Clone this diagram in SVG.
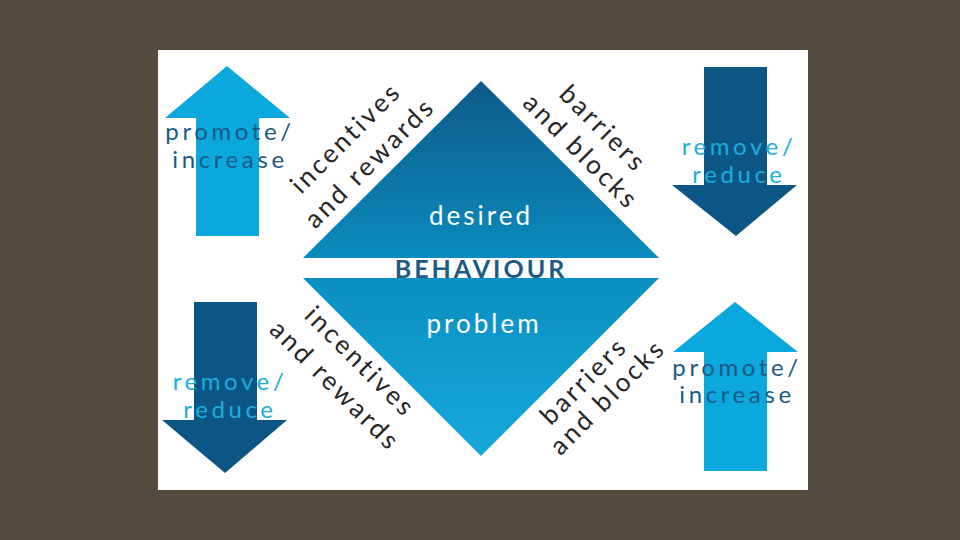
<svg xmlns="http://www.w3.org/2000/svg" width="960" height="540" viewBox="0 0 960 540">
<defs>
<linearGradient id="gTop" x1="0" y1="0" x2="0" y2="1">
<stop offset="0" stop-color="#0d5a88"/>
<stop offset="1" stop-color="#0a8bbd"/>
</linearGradient>
<linearGradient id="gBot" x1="0" y1="0" x2="0" y2="1">
<stop offset="0" stop-color="#0a8fc1"/>
<stop offset="1" stop-color="#17a8da"/>
</linearGradient>
<style>
.lbl{font-family:Lato,"Open Sans","Liberation Sans",sans-serif;font-size:26px;letter-spacing:3px;text-anchor:middle}
.arr{font-size:24px;letter-spacing:3.6px}
.rot{fill:#262626}
.dk{fill:#1b5a86}
.lt{fill:#1cadde}
.wh{fill:#ffffff}
.light{fill:#0aa8dc}
.dark{fill:#0b5684}
</style>
</defs>
<rect x="0" y="0" width="960" height="540" fill="#554c40"/>
<rect x="158" y="50" width="650" height="440" fill="#ffffff"/>

<g id="desired">
<polygon points="481,81 659,258 303,258" fill="url(#gTop)"/>
<text class="lbl wh" x="481" y="225">desired</text>
</g>
<g id="problem">
<polygon points="303,278 659,278 481,456" fill="url(#gBot)"/>
<text class="lbl wh" x="484" y="333">problem</text>
</g>
<g id="behaviour">
<text x="481" y="278" font-family="Lato,'Open Sans','Liberation Sans',sans-serif" font-size="25" font-weight="bold" letter-spacing="3" text-anchor="middle" fill="#1d5a86">BEHAVIOUR</text>
</g>

<g id="arrow-tl">
<polygon points="227,66 290,118 259,118 259,236 196,236 196,118 165,118" class="light"/>
<text class="lbl arr dk" x="230" y="140">promote/</text>
<text class="lbl arr dk" x="230" y="168">increase</text>
</g>
<g id="arrow-tr">
<polygon points="704,67 767,67 767,185 797,185 736,236 672,185 704,185" class="dark"/>
<text class="lbl arr lt" x="739" y="155">remove/</text>
<text class="lbl arr lt" x="739" y="183">reduce</text>
</g>
<g id="arrow-bl">
<polygon points="194,302 257,302 257,420 287,420 225,473 162,420 194,420" class="dark"/>
<text class="lbl arr lt" x="230" y="390">remove/</text>
<text class="lbl arr lt" x="230" y="418">reduce</text>
</g>
<g id="arrow-br">
<polygon points="735,302 798,352 767,352 767,471 704,471 704,352 673,352" class="light"/>
<text class="lbl arr dk" x="737" y="376">promote/</text>
<text class="lbl arr dk" x="737" y="403">increase</text>
</g>

<g id="label-tl">
<text class="lbl rot" transform="translate(352,144) rotate(-45)">incentives</text>
<text class="lbl rot" transform="translate(376,169) rotate(-45)">and rewards</text>
</g>
<g id="label-tr">
<text class="lbl rot" transform="translate(597,135) rotate(45)">barriers</text>
<text class="lbl rot" transform="translate(575,158) rotate(45)">and blocks</text>
</g>
<g id="label-bl">
<text class="lbl rot" transform="translate(354,368) rotate(45)">incentives</text>
<text class="lbl rot" transform="translate(329,392) rotate(45)">and rewards</text>
</g>
<g id="label-br">
<text class="lbl rot" transform="translate(590,387) rotate(-45)">barriers</text>
<text class="lbl rot" transform="translate(614,403) rotate(-45)">and blocks</text>
</g>
<g id="connectors"></g>
</svg>
